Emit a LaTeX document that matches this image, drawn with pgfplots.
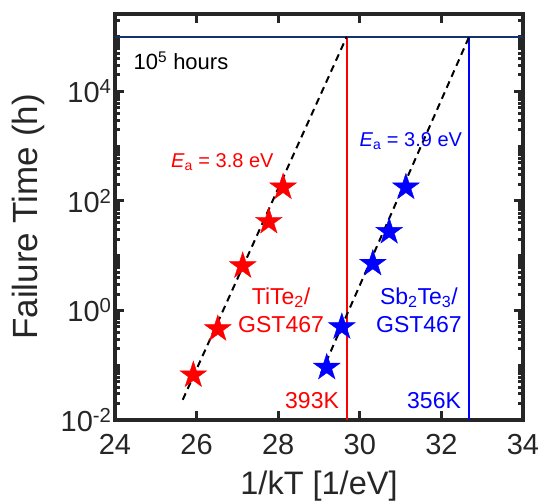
\documentclass[border=0pt]{standalone}
\usepackage{fontspec}
\setmainfont{Liberation Sans}
\usepackage{pgfplots}
\pgfplotsset{compat=1.18}

\definecolor{axgray}{gray}{0.15}
\definecolor{hblue}{RGB}{20,50,110}

% filled five-pointed star, like the MATLAB pentagram
\pgfdeclareplotmark{pstar}{%
  \pgfpathmoveto{\pgfpointpolar{90}{\pgfplotmarksize}}%
  \pgfpathlineto{\pgfpointpolar{126}{0.382\pgfplotmarksize}}%
  \pgfpathlineto{\pgfpointpolar{162}{\pgfplotmarksize}}%
  \pgfpathlineto{\pgfpointpolar{198}{0.382\pgfplotmarksize}}%
  \pgfpathlineto{\pgfpointpolar{234}{\pgfplotmarksize}}%
  \pgfpathlineto{\pgfpointpolar{270}{0.382\pgfplotmarksize}}%
  \pgfpathlineto{\pgfpointpolar{306}{\pgfplotmarksize}}%
  \pgfpathlineto{\pgfpointpolar{342}{0.382\pgfplotmarksize}}%
  \pgfpathlineto{\pgfpointpolar{18}{\pgfplotmarksize}}%
  \pgfpathlineto{\pgfpointpolar{54}{0.382\pgfplotmarksize}}%
  \pgfpathclose
  \pgfusepathqfillstroke
}

\newcommand{\ann}{\fontsize{23bp}{25bp}\selectfont}
\newcommand{\annE}{\fontsize{20bp}{22bp}\selectfont}

\begin{document}
\begin{tikzpicture}
\useasboundingbox (-115bp,-82bp) rectangle (428bp,420bp);
\begin{axis}[
  at={(0,0)}, anchor=south west,
  scale only axis, width=408bp, height=406bp,
  xmin=24, xmax=34,
  ymode=log, ymin=1e-2, ymax=2.6e5,
  xtick={24,26,...,34},
  ytick={1e-2,1,1e2,1e4},
  yticklabels={10\textsuperscript{-2},10\textsuperscript{0},10\textsuperscript{2},10\textsuperscript{4}},
  minor ytick={0.02,0.03,0.04,0.05,0.06,0.07,0.08,0.09,0.1,0.2,0.3,0.4,0.5,0.6,0.7,0.8,0.9,
    2,3,4,5,6,7,8,9,10,20,30,40,50,60,70,80,90,200,300,400,500,600,700,800,900,
    1000,2000,3000,4000,5000,6000,7000,8000,9000,2e4,3e4,4e4,5e4,6e4,7e4,8e4,9e4,1e5,2e5},
  tick align=inside,
  xtick pos=both, ytick pos=both,
  major tick length=9bp, minor tick length=5bp,
  axis line style={axgray, line width=3.5bp},
  every tick/.style={axgray, line width=3bp},
  ticklabel style={font=\fontsize{29bp}{31bp}\selectfont, text=axgray},
  xticklabel style={yshift=-11bp},
  /pgf/number format/assume math mode=true,
  xlabel={1/kT [1/eV]},
  ylabel={Failure Time (h)},
  xlabel style={font=\fontsize{32.5bp}{34bp}\selectfont, text=axgray,
    at={(axis description cs:0.5,-0.183)}, anchor=base},
  ylabel style={font=\fontsize{35bp}{37bp}\selectfont, text=axgray,
    at={(axis description cs:-0.213,0.5)}, anchor=center},
]
% 10^5 hours level and the two temperature limits
\addplot[hblue, line width=2bp] coordinates {(24,1e5) (34,1e5)};
\addplot[red, line width=2bp] coordinates {(29.68,1e-2) (29.68,1e5)};
\addplot[blue, line width=2bp] coordinates {(32.68,1e-2) (32.68,1e5)};

% TiTe2/GST467
\addplot[only marks, mark=pstar, mark size=14bp, mark options={fill=red, draw=red}]
  coordinates {(28.12,178) (27.77,42) (27.13,6.5) (26.52,0.46) (25.92,0.066)};
% Sb2Te3/GST467
\addplot[only marks, mark=pstar, mark size=14bp, mark options={fill=blue, draw=blue}]
  coordinates {(31.13,178) (30.72,27.5) (30.32,7.2) (29.56,0.50) (29.19,0.091)};

% Arrhenius fits
\addplot[black, line width=2bp, dash pattern=on 7bp off 5bp] coordinates {(25.66,0.0234) (29.68,1e5)};
\addplot[black, line width=2bp, dash pattern=on 7bp off 5bp] coordinates {(29.05,0.071) (32.68,1e5)};

\node[anchor=base west, font=\fontsize{22bp}{24bp}\selectfont] at (axis cs:24.37,2.5e4) {10\textsuperscript{5} hours};
\node[anchor=base, font=\annE, text=red] at (axis cs:26.63,405) {\textit{E}\textsubscript{a} = 3.8 eV};
\node[anchor=base, font=\annE, text=blue] at (axis cs:31.25,980) {\textit{E}\textsubscript{a} = 3.9 eV};
\node[anchor=base, font=\ann, text=red] at (axis cs:28.07,1.30) {TiTe\textsubscript{2}/};
\node[anchor=base, font=\ann, text=red] at (axis cs:28.07,0.40) {GST467};
\node[anchor=base, font=\ann, text=blue] at (axis cs:31.45,1.30) {Sb\textsubscript{2}Te\textsubscript{3}/};
\node[anchor=base, font=\ann, text=blue] at (axis cs:31.45,0.40) {GST467};
\node[anchor=base, font=\ann, text=red] at (axis cs:28.83,0.016) {393K};
\node[anchor=base, font=\ann, text=blue] at (axis cs:31.82,0.016) {356K};
\end{axis}
\end{tikzpicture}
\end{document}
